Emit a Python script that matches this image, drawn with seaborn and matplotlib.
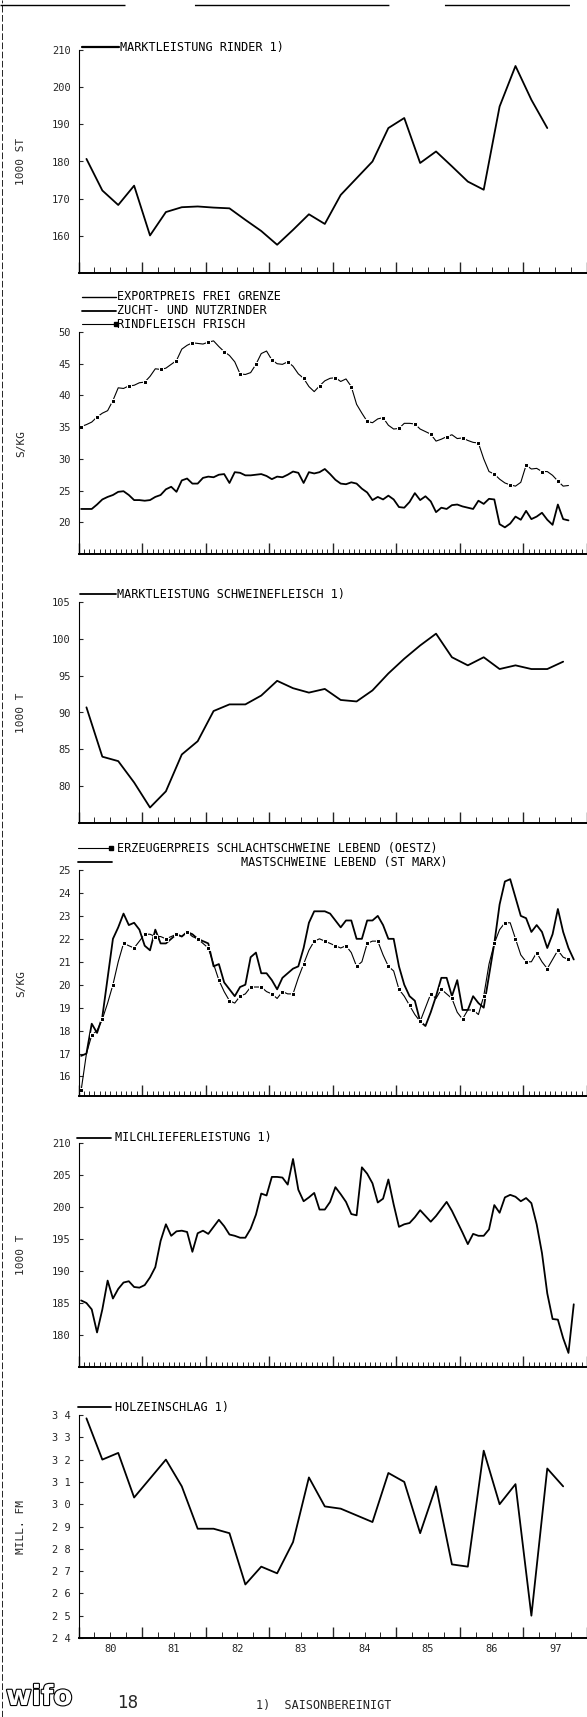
import numpy as np
import pandas as pd
import matplotlib
matplotlib.use("Agg")
import matplotlib.pyplot as plt
import seaborn as sns
from matplotlib.lines import Line2D
from matplotlib.ticker import FixedLocator
import matplotlib.patheffects as pe

# ---------------- data ----------------
year_labels = ["80", "81", "82", "83", "84", "85", "86", "97"]

# Marktleistung Rinder (quarterly, 1000 St)
rinder_q = [180.7, 172.2, 168.3, 173.5, 160.1, 166.4, 167.7, 167.9, 167.6, 167.4,
            164.3, 161.3, 157.6, 161.6, 165.8, 163.2, 171.0, 175.5, 180.0, 189.0,
            191.7, 179.6, 182.7, 178.7, 174.6, 172.4, 194.8, 205.7, 196.6, 189.0]

# Exportpreis frei Grenze: Rindfleisch frisch (monthly, S/kg)
rindfleisch_m = [35.1, 35.4, 35.8, 36.6, 37.2, 37.6, 39.2, 41.2, 41.1, 41.5,
                 41.6, 42.0, 42.1, 43.0, 44.2, 44.1, 44.3, 44.9, 45.5, 47.3,
                 47.9, 48.3, 48.2, 48.1, 48.4, 48.6, 47.7, 46.9, 46.3, 45.3,
                 43.4, 43.3, 43.6, 44.9, 46.6, 47.0, 45.6, 45.0, 44.9, 45.3,
                 44.6, 43.4, 42.7, 41.4, 40.6, 41.5, 42.3, 42.7, 42.8, 42.2,
                 42.6, 41.4, 38.6, 37.2, 35.9, 35.7, 36.3, 36.5, 35.3, 34.7,
                 34.8, 35.6, 35.6, 35.5, 34.7, 34.3, 33.9, 32.8, 33.1, 33.5,
                 33.8, 33.2, 33.3, 32.9, 32.6, 32.5, 30.0, 28.0, 27.6, 26.8,
                 26.2, 25.9, 25.7, 26.3, 29.0, 28.4, 28.5, 28.0, 28.0, 27.4,
                 26.5, 25.7, 25.8]

# Zucht- und Nutzrinder (monthly, S/kg)
zucht_m = [22.1, 22.1, 22.1, 22.8, 23.6, 24.0, 24.3, 24.8, 24.9, 24.3,
           23.5, 23.5, 23.4, 23.5, 24.0, 24.3, 25.2, 25.6, 24.8, 26.6,
           26.9, 26.1, 26.1, 27.0, 27.2, 27.1, 27.5, 27.6, 26.2, 27.9,
           27.8, 27.4, 27.4, 27.5, 27.6, 27.3, 26.8, 27.2, 27.1, 27.5,
           28.0, 27.8, 26.2, 27.9, 27.7, 27.9, 28.4, 27.6, 26.7, 26.1,
           26.0, 26.3, 26.1, 25.3, 24.7, 23.5, 24.0, 23.6, 24.2, 23.6,
           22.4, 22.3, 23.2, 24.6, 23.5, 24.1, 23.3, 21.6, 22.3, 22.1,
           22.7, 22.8, 22.5, 22.3, 22.1, 23.4, 22.9, 23.7, 23.6, 19.7,
           19.2, 19.8, 20.9, 20.4, 21.8, 20.5, 20.9, 21.5, 20.4, 19.6,
           22.8, 20.5, 20.3]

# Marktleistung Schweinefleisch (quarterly, 1000 t)
schwein_q = [90.7, 84.0, 83.4, 80.5, 77.1, 79.3, 84.3, 86.1, 90.2, 91.1,
             91.1, 92.3, 94.3, 93.3, 92.7, 93.2, 91.7, 91.5, 93.0, 95.3,
             97.3, 99.1, 100.7, 97.5, 96.4, 97.5, 95.9, 96.4, 95.9, 95.9, 96.9]

# Erzeugerpreis Schlachtschweine lebend (OESTZ) (monthly, S/kg)
erzeuger_m = [15.4, 17.0, 17.8, 18.0, 18.5, 19.2, 20.0, 21.0, 21.8, 21.7,
              21.6, 21.9, 22.2, 22.2, 22.1, 22.1, 22.0, 22.1, 22.2, 22.1,
              22.3, 22.1, 22.0, 21.8, 21.6, 20.9, 20.2, 19.7, 19.3, 19.2,
              19.5, 19.6, 19.9, 19.9, 19.9, 19.7, 19.6, 19.4, 19.7, 19.6,
              19.6, 20.3, 20.9, 21.5, 21.9, 22.0, 21.9, 21.8, 21.7, 21.6,
              21.7, 21.4, 20.8, 21.0, 21.8, 21.9, 21.9, 21.3, 20.8, 20.6,
              19.8, 19.5, 19.1, 18.7, 18.4, 19.0, 19.6, 19.4, 19.8, 19.6,
              19.4, 18.8, 18.5, 18.9, 18.9, 18.7, 19.5, 20.9, 21.8, 22.4,
              22.7, 22.7, 22.0, 21.3, 21.0, 21.0, 21.4, 21.0, 20.7, 21.1,
              21.5, 21.2, 21.1]

# Mastschweine lebend (St. Marx) (monthly, S/kg)
mast_m = [16.9, 17.0, 18.3, 17.9, 18.6, 20.3, 22.0, 22.5, 23.1, 22.6,
          22.7, 22.4, 21.7, 21.5, 22.4, 21.8, 21.8, 22.0, 22.2, 22.1,
          22.3, 22.2, 22.0, 21.9, 21.8, 20.8, 20.9, 20.1, 19.8, 19.5,
          19.9, 20.0, 21.2, 21.4, 20.5, 20.5, 20.2, 19.8, 20.3, 20.5,
          20.7, 20.8, 21.6, 22.7, 23.2, 23.2, 23.2, 23.1, 22.8, 22.5,
          22.8, 22.8, 22.0, 22.0, 22.8, 22.8, 23.0, 22.6, 22.0, 22.0,
          20.8, 20.0, 19.5, 19.3, 18.4, 18.2, 18.8, 19.5, 20.3, 20.3,
          19.5, 20.2, 18.9, 18.9, 19.5, 19.2, 19.0, 20.4, 21.8, 23.5,
          24.5, 24.6, 23.8, 23.0, 22.9, 22.3, 22.6, 22.3, 21.6, 22.2,
          23.3, 22.3, 21.6, 21.1]

# Milchlieferleistung (monthly, 1000 t)
milch_m = [185.4, 185.0, 184.0, 180.4, 184.0, 188.5, 185.7, 187.2, 188.2, 188.4,
           187.5, 187.4, 187.8, 189.0, 190.6, 194.7, 197.3, 195.5, 196.2, 196.3,
           196.1, 193.0, 195.9, 196.3, 195.8, 196.9, 198.0, 197.0, 195.7, 195.5,
           195.2, 195.2, 196.6, 198.8, 202.1, 201.8, 204.7, 204.7, 204.6, 203.5,
           207.5, 202.7, 200.9, 201.5, 202.2, 199.6, 199.6, 200.8, 203.1, 202.0,
           200.8, 198.9, 198.7, 206.2, 205.2, 203.7, 200.7, 201.3, 204.3, 200.4,
           196.9, 197.3, 197.5, 198.4, 199.5, 198.6, 197.7, 198.6, 199.7, 200.8,
           199.4, 197.7, 196.0, 194.2, 195.8, 195.5, 195.5, 196.5, 200.3, 199.1,
           201.5, 201.9, 201.6, 200.9, 201.4, 200.6, 197.3, 192.8, 186.5, 182.5,
           182.4, 179.5, 177.2, 184.8]

# Holzeinschlag (quarterly, Mill. fm)
holz_q = [3.385, 3.20, 3.23, 3.03, 3.115, 3.20, 3.08, 2.89, 2.89, 2.87,
          2.64, 2.72, 2.69, 2.83, 3.12, 2.99, 2.98, 2.95, 2.92, 3.14,
          3.10, 2.87, 3.08, 2.73, 2.72, 3.24, 3.00, 3.09, 2.50, 3.16, 3.08]


def quarterly_x(vals):
    return 1980 + 0.125 + 0.25 * np.arange(len(vals))


def monthly_x(vals):
    return 1980 + (np.arange(len(vals)) + 0.5) / 12.0


# ---------------- figure ----------------
W, H = 587, 1717
sns.set_theme(style="white")
plt.rcParams['font.family'] = ['DejaVu Sans Mono', 'DejaVu Sans']
plt.rcParams['axes.edgecolor'] = 'black'

fig = plt.figure(figsize=(W / 100, H / 100), dpi=100)
fig.patch.set_facecolor('white')

LEFT_PX = 78.5
X0 = 1980.0
X1 = 1980.0 + (W - LEFT_PX) / 64.2

panels_px = [(50, 273), (332, 554), (602, 823), (870, 1096), (1143, 1367), (1415, 1638)]

axes = []
for top, bot in panels_px:
    ax = fig.add_axes([LEFT_PX / W, 1 - bot / H, (W - LEFT_PX) / W, (bot - top) / H])
    axes.append(ax)

TICK_FS = 7.5
LAB_FS = 8


def setup(ax, ylim, yticks, ylabels, ylabel, freq):
    ax.set_xlim(X0, X1)
    ax.set_ylim(*ylim)
    ax.set_facecolor('white')
    for s in ['top', 'right']:
        ax.spines[s].set_visible(False)
    ax.spines['left'].set_linewidth(0.8)
    ax.spines['bottom'].set_linewidth(1.4)
    ax.set_yticks(yticks)
    ax.set_yticklabels(ylabels)
    ax.tick_params(axis='y', direction='in', length=3, width=0.8, pad=5.5,
                   labelsize=TICK_FS, left=True)
    ax.set_xticks(np.arange(1980, 1989))
    ax.set_xticklabels([])
    ax.tick_params(axis='x', which='major', direction='in', length=8, width=1.0, bottom=True)
    if freq == 'q':
        minor = 1980 + 0.25 * np.arange(0, 33)
        mlen = 4.5
    else:
        minor = 1980 + np.arange(0, 97) / 12.0
        mlen = 3.5
    ax.xaxis.set_minor_locator(FixedLocator(minor))
    ax.tick_params(axis='x', which='minor', direction='in', length=mlen, width=0.7, bottom=True)
    ax.set_xlabel('')
    ax.set_ylabel(ylabel, fontsize=LAB_FS)
    ax.yaxis.set_label_coords(-(LEFT_PX - 26) / (W - LEFT_PX), 0.5)
    ax.grid(False)


def leg_line(x0, x1, y, marker=None, lw=1.2):
    ln = Line2D([x0 / W, x1 / W], [1 - y / H, 1 - y / H], transform=fig.transFigure,
                color='black', lw=lw, marker=marker, markersize=2.5,
                markevery=[len([x0, x1]) - 1] if marker else None)
    fig.add_artist(ln)


def leg_text(x, y, s, fs=8.5):
    fig.text(x / W, 1 - y / H, s, fontsize=fs, va='center', ha='left', color='black')


LW = 1.3

# Panel 1
ax = axes[0]
sns.lineplot(x=quarterly_x(rinder_q), y=rinder_q, ax=ax, color='black', linewidth=LW)
setup(ax, (150, 210), [160, 170, 180, 190, 200, 210],
      ["160", "170", "180", "190", "200", "210"], "1000 ST", 'q')
leg_line(82, 119, 47, lw=1.6)
leg_text(120, 47, "MARKTLEISTUNG RINDER 1)")

# Panel 2
ax = axes[1]
sns.lineplot(x=monthly_x(zucht_m), y=zucht_m, ax=ax, color='black', linewidth=LW)
sns.lineplot(x=monthly_x(rindfleisch_m), y=rindfleisch_m, ax=ax, color='black',
             linewidth=0.8, marker='s', markersize=2.2, markevery=3)
setup(ax, (15, 50), [20, 25, 30, 35, 40, 45, 50],
      ["20", "25", "30", "35", "40", "45", "50"], "S/KG", 'm')
leg_line(82, 116, 297, lw=1.0)
leg_text(117, 297, "EXPORTPREIS FREI GRENZE")
leg_line(82, 116, 311, lw=1.3)
leg_text(117, 311, "ZUCHT- UND NUTZRINDER")
leg_line(82, 116, 324, marker='s', lw=0.8)
leg_text(117, 324, "RINDFLEISCH FRISCH")

# Panel 3
ax = axes[2]
sns.lineplot(x=quarterly_x(schwein_q), y=schwein_q, ax=ax, color='black', linewidth=LW)
setup(ax, (75, 105), [80, 85, 90, 95, 100, 105],
      ["80", "85", "90", "95", "100", "105"], "1000 T", 'q')
leg_line(80, 116, 594, lw=1.3)
leg_text(117, 594, "MARKTLEISTUNG SCHWEINEFLEISCH 1)")

# Panel 4
ax = axes[3]
sns.lineplot(x=monthly_x(mast_m), y=mast_m, ax=ax, color='black', linewidth=LW)
sns.lineplot(x=monthly_x(erzeuger_m), y=erzeuger_m, ax=ax, color='black',
             linewidth=0.8, marker='s', markersize=2.2, markevery=2)
setup(ax, (15.15, 25), list(range(16, 26)), [str(v) for v in range(16, 26)], "S/KG", 'm')
leg_line(78, 111, 848, marker='s', lw=0.8)
leg_text(117, 848, "ERZEUGERPREIS SCHLACHTSCHWEINE LEBEND (OESTZ)")
leg_line(78, 112, 862, lw=1.3)
leg_text(241, 862, "MASTSCHWEINE LEBEND (ST MARX)")

# Panel 5
ax = axes[4]
sns.lineplot(x=monthly_x(milch_m), y=milch_m, ax=ax, color='black', linewidth=LW)
setup(ax, (175, 210), [180, 185, 190, 195, 200, 205, 210],
      ["180", "185", "190", "195", "200", "205", "210"], "1000 T", 'm')
leg_line(77, 111, 1138, lw=1.3)
leg_text(115, 1138, "MILCHLIEFERLEISTUNG 1)")

# Panel 6
ax = axes[5]
sns.lineplot(x=quarterly_x(holz_q), y=holz_q, ax=ax, color='black', linewidth=LW)
holz_ticks = [2.4 + 0.1 * i for i in range(11)]
setup(ax, (2.4, 3.4), holz_ticks, [f"{v:.1f}".replace('.', ' ') for v in holz_ticks],
      "MILL. FM", 'q')
leg_line(78, 111, 1407, lw=1.3)
leg_text(115, 1407, "HOLZEINSCHLAG 1)")
for i, lab in enumerate(year_labels):
    ax.text(1980.5 + i, -0.05, lab, transform=ax.get_xaxis_transform(),
            ha='center', va='center', fontsize=TICK_FS)

# page decorations
fig.add_artist(Line2D([0.004, 0.004], [0.0, 1.0], transform=fig.transFigure,
                      color='black', lw=0.6, ls=(0, (8, 3))))
fig.add_artist(Line2D([0.0, 1.0], [1 - 5 / H, 1 - 5 / H], transform=fig.transFigure,
                      color='black', lw=1.0, ls=(0, (90, 50, 140, 40))))

# footer
logo = fig.text(6 / W, 1 - 1697 / H, "wifo", fontsize=20, fontweight='bold',
                family='DejaVu Sans', color='white', va='center', ha='left')
logo.set_path_effects([pe.withStroke(linewidth=1.6, foreground='black')])
fig.text(128 / W, 1 - 1703 / H, "18", fontsize=12, family='DejaVu Sans',
         va='center', ha='center')
fig.text(256 / W, 1 - 1705 / H, "1)  SAISONBEREINIGT", fontsize=8.5, va='center', ha='left')

fig.savefig("out.png", dpi=100, facecolor='white')
